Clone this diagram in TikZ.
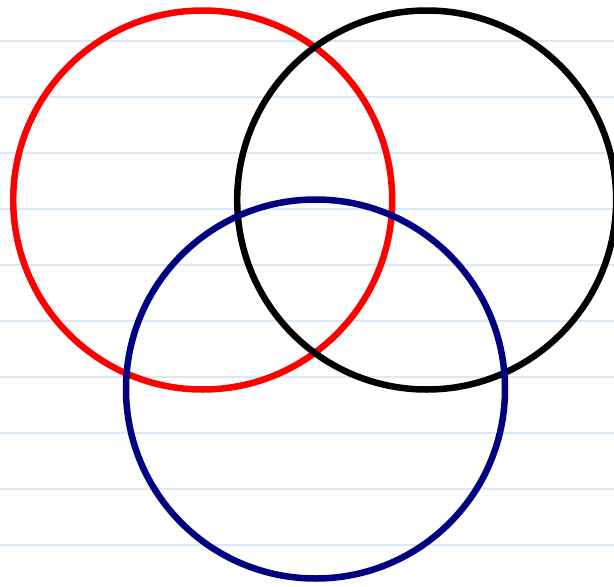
\documentclass[tikz,border=0pt]{standalone}
\usepackage{tikz}
\tikzset{
  ruleline/.style={
    draw=ruleblue,
    line width=1.6pt
  },
  ring/.style={
    circle,
    draw=#1,
    line width=6.5pt,
    minimum size=379pt,
    inner sep=0pt
  }
}
\definecolor{ruleblue}{RGB}{218,233,248}
\definecolor{ringnavy}{RGB}{0,0,128}

\begin{document}
\begin{tikzpicture}[x=1pt,y=-1pt]
\useasboundingbox (0,0) rectangle (614,587);
\clip (0,0) rectangle (614,587);

% ruled background
\foreach \k in {0,...,9}
  \draw[ruleline] (0,{40.7+56*\k}) -- (614,{40.7+56*\k});

\node[ring=red] (redring) at (202.7,200) {};
\node[ring=black] (blackring) at (426.7,200) {};
\node[ring=ringnavy] (bluering) at (315.5,389) {};
\end{tikzpicture}
\end{document}
